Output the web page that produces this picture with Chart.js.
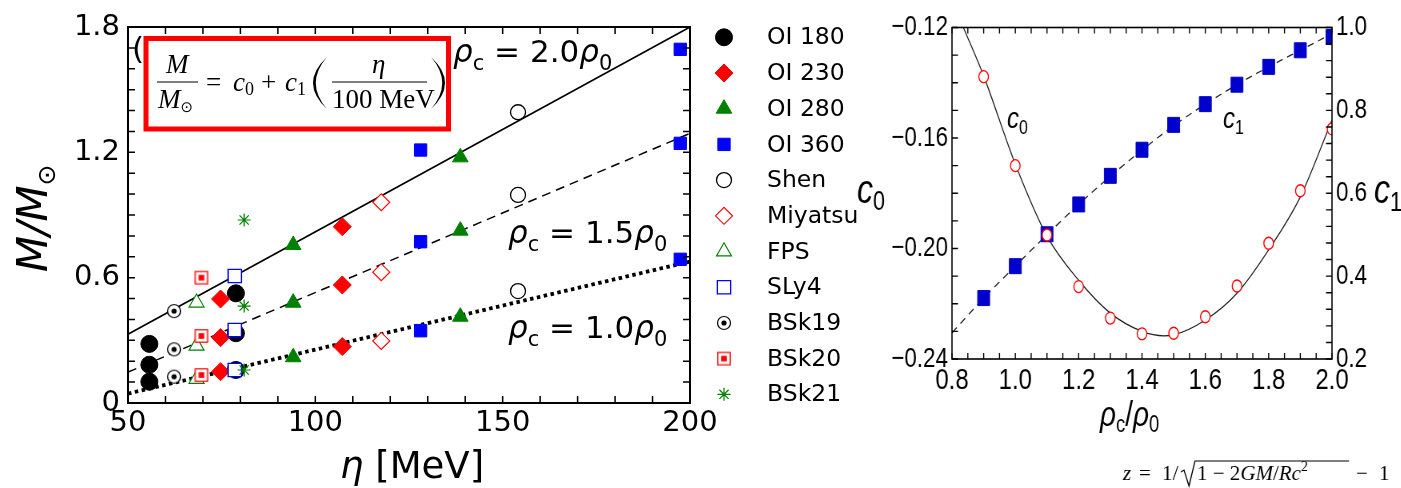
<!DOCTYPE html>
<html>
<head>
<meta charset="utf-8">
<script src="https://cdn.jsdelivr.net/npm/chart.js@4.4.0/dist/chart.umd.min.js"></script>
<style>
  html, body { margin: 0; padding: 0; background: #fff; }
  #wrap { position: relative; width: 1401px; height: 488px; overflow: hidden; }
  #left { position: absolute; left: 0; top: 0; }
  #right { position: absolute; left: 840px; top: 0; transform: scaleX(0.8); transform-origin: 0 0; }
</style>
</head>
<body>
<div id="wrap">
  <canvas id="left" width="860" height="488"></canvas>
  <canvas id="right" width="701" height="488"></canvas>
</div>
<script>
// left panel: neutron star mass vs eta, three central densities per model
const etaOI180 = [55.7, 55.7, 55.7, 78.8, 78.8, 78.8];
const massOI180 = [0.283, 0.183, 0.102, 0.525, 0.334, 0.158];
const etaOI230 = [74.7, 74.7, 74.7, 107.2, 107.2, 107.2];
const massOI230 = [0.498, 0.313, 0.150, 0.844, 0.565, 0.270];
const etaOI280 = [94.1, 94.1, 94.1, 138.7, 138.7, 138.7];
const massOI280 = [0.756, 0.480, 0.219, 1.176, 0.825, 0.413];
const etaOI360 = [128.1, 128.1, 128.1, 197.4, 197.4, 197.4];
const massOI360 = [1.211, 0.772, 0.346, 1.693, 1.243, 0.688];
const etaShen = [154.1, 154.1, 154.1];
const massShen = [1.392, 0.996, 0.536];
const etaMiyatsu = [117.6, 117.6, 117.6];
const massMiyatsu = [0.961, 0.626, 0.297];
const etaFPS = [68.3, 68.3, 68.3];
const massFPS = [0.480, 0.274, 0.115];
const etaSLy4 = [78.5, 78.5, 78.5];
const massSLy4 = [0.608, 0.349, 0.158];
const etaBSk19 = [62.3, 62.3, 62.3];
const massBSk19 = [0.440, 0.257, 0.126];
const etaBSk20 = [69.6, 69.6, 69.6];
const massBSk20 = [0.600, 0.321, 0.134];
const etaBSk21 = [81.0, 81.0, 81.0];
const massBSk21 = [0.876, 0.464, 0.158];

// fit lines (end points)
const fitEta = [50, 200];
const fitRho20 = [0.329, 1.800];
const fitRho15 = [0.148, 1.291];
const fitRho10 = [0.045, 0.677];

const etaTicks = [50, 100, 150, 200];
const etaTickLabels = ['50', '100', '150', '200'];
const massTicks = [0, 0.6, 1.2, 1.8];
const massTickLabels = ['0', '0.6', '1.2', '1.8'];

// right panel: fit coefficients vs rho_c / rho_0
const rhoRatio = [0.9, 1.0, 1.1, 1.2, 1.3, 1.4, 1.5, 1.6, 1.7, 1.8, 1.9, 2.0];
const c0Values = [-0.1378, -0.1700, -0.1951, -0.2138, -0.2252, -0.2309, -0.2307, -0.2247, -0.2136, -0.1981, -0.1791, -0.1567];
const c1Values = [0.347, 0.424, 0.501, 0.573, 0.642, 0.705, 0.765, 0.815, 0.862, 0.905, 0.945, 0.977];
const c0CurveX = [0.836, 0.9, 1.0, 1.1, 1.2, 1.3, 1.4, 1.47, 1.5, 1.6, 1.7, 1.8, 1.9, 2.0];
const c0CurveY = [-0.120, -0.1375, -0.1695, -0.1955, -0.2115, -0.2234, -0.2300, -0.2316, -0.2313, -0.2259, -0.2162, -0.2005, -0.1813, -0.1535];
const c1LineX = [0.8, 0.9, 1.0, 1.1, 1.2, 1.3, 1.4, 1.5, 1.6, 1.7, 1.8, 1.9, 2.0];
const c1LineY = [0.263, 0.347, 0.424, 0.500, 0.573, 0.641, 0.704, 0.763, 0.815, 0.862, 0.905, 0.945, 0.985];

const rhoTicks = [0.8, 1.0, 1.2, 1.4, 1.6, 1.8, 2.0];
const rhoTickLabels = ['0.8', '1.0', '1.2', '1.4', '1.6', '1.8', '2.0'];
const c0Ticks = [-0.24, -0.20, -0.16, -0.12];
const c0TickLabels = ['\u22120.24', '\u22120.20', '\u22120.16', '\u22120.12'];
const c1Ticks = [0.2, 0.4, 0.6, 0.8, 1.0];
const c1TickLabels = ['0.2', '0.4', '0.6', '0.8', '1.0'];

const RED = '#ff0000', GREEN = '#008000', BLUE = '#0000ff';

function marker(size, draw) {
    const c = document.createElement('canvas');
    c.width = size; c.height = size;
    draw(c.getContext('2d'));
    return c;
}
// circle with a dot
const dotCircle = marker(18, g => {
    g.fillStyle = '#fff'; g.strokeStyle = '#000'; g.lineWidth = 1.2;
    g.beginPath(); g.arc(9, 9, 6.5, 0, 2 * Math.PI); g.fill(); g.stroke();
    g.fillStyle = '#000';
    g.beginPath(); g.arc(9, 9, 2.6, 0, 2 * Math.PI); g.fill();
});
// square with a small filled square
const dotSquare = marker(16, g => {
    g.fillStyle = '#fff'; g.strokeStyle = RED; g.lineWidth = 1.2;
    g.fillRect(1.8, 1.8, 12.4, 12.4); g.strokeRect(1.8, 1.8, 12.4, 12.4);
    g.fillStyle = RED; g.fillRect(5.2, 5.2, 5.6, 5.6);
});

const pts = (xs, ys) => xs.map((x, i) => ({ x: x, y: ys[i] }));

const models = [
    { label: 'OI 180', data: pts(etaOI180, massOI180), pointStyle: 'circle', r: 8.5, bg: '#000', bc: '#000', bw: 1 },
    { label: 'OI 230', data: pts(etaOI230, massOI230), pointStyle: 'rectRot', r: 9, bg: RED, bc: RED, bw: 1 },
    { label: 'OI 280', data: pts(etaOI280, massOI280), pointStyle: 'triangle', r: 9, bg: GREEN, bc: GREEN, bw: 1 },
    { label: 'OI 360', data: pts(etaOI360, massOI360), pointStyle: 'rect', r: 8.7, bg: BLUE, bc: BLUE, bw: 1 },
    { label: 'Shen', data: pts(etaShen, massShen), pointStyle: 'circle', r: 7.5, bg: '#fff', bc: '#000', bw: 1.3 },
    { label: 'Miyatsu', data: pts(etaMiyatsu, massMiyatsu), pointStyle: 'rectRot', r: 8.5, bg: '#fff', bc: RED, bw: 1.1 },
    { label: 'FPS', data: pts(etaFPS, massFPS), pointStyle: 'triangle', r: 8.7, bg: '#fff', bc: GREEN, bw: 1.1 },
    { label: 'SLy4', data: pts(etaSLy4, massSLy4), pointStyle: 'rect', r: 9.4, bg: '#fff', bc: BLUE, bw: 1.3 },
    { label: 'BSk19', data: pts(etaBSk19, massBSk19), pointStyle: dotCircle, r: 7, bg: '#fff', bc: '#000', bw: 1 },
    { label: 'BSk20', data: pts(etaBSk20, massBSk20), pointStyle: dotSquare, r: 7, bg: '#fff', bc: RED, bw: 1 },
    { label: 'BSk21', data: pts(etaBSk21, massBSk21), pointStyle: 'star', r: 6.5, bg: GREEN, bc: GREEN, bw: 1.2 }
];

function fitLine(ys, dash, width) {
    return {
        data: pts(fitEta, ys), showLine: true, pointRadius: 0, borderColor: '#000',
        borderWidth: width, borderDash: dash, order: 100, fill: false
    };
}

// text chained piece by piece: [text, font, dy]
function rich(ctx, x, y, parts) {
    for (const [t, f, dy] of parts) {
        ctx.font = f;
        ctx.fillText(t, x, y + (dy || 0));
        x += ctx.measureText(t).width;
    }
    return x;
}

function inwardTicks(ctx, chart, id, from, to, step, side, len) {
    const s = chart.scales[id], a = chart.chartArea;
    const n = Math.round((to - from) / step);
    ctx.beginPath();
    for (let k = 0; k <= n; k++) {
        const p = s.getPixelForValue(from + k * step);
        if (side === 'bottom') { ctx.moveTo(p, a.bottom); ctx.lineTo(p, a.bottom - len); }
        if (side === 'top') { ctx.moveTo(p, a.top); ctx.lineTo(p, a.top + len); }
        if (side === 'left') { ctx.moveTo(a.left, p); ctx.lineTo(a.left + len, p); }
        if (side === 'right') { ctx.moveTo(a.right, p); ctx.lineTo(a.right - len, p); }
    }
    ctx.stroke();
}

// thin tall bracket as a crescent
function paren(ctx, x, top, bottom, bulge) {
    const mid = (top + bottom) / 2;
    ctx.beginPath();
    ctx.moveTo(x, top);
    ctx.quadraticCurveTo(x - bulge, mid, x, bottom);
    ctx.quadraticCurveTo(x - bulge * 0.8, mid, x, top);
    ctx.fill();
}

const SANS = 'DejaVu Sans';
const SERIF = '"Liberation Serif", "DejaVu Serif", serif';

const leftDecor = {
    id: 'leftDecor',
    afterDraw(chart) {
        const ctx = chart.ctx, a = chart.chartArea;
        ctx.save();
        ctx.strokeStyle = '#000'; ctx.fillStyle = '#000';
        ctx.lineWidth = 2;
        ctx.strokeRect(a.left, a.top, a.right - a.left, a.bottom - a.top);
        ctx.lineWidth = 1.5;
        inwardTicks(ctx, chart, 'x', 50, 200, 10, 'bottom', 7);
        inwardTicks(ctx, chart, 'x', 50, 200, 10, 'top', 7);
        inwardTicks(ctx, chart, 'y', 0, 1.8, 0.1, 'left', 7);
        inwardTicks(ctx, chart, 'y', 0, 1.8, 0.1, 'right', 7);

        ctx.textAlign = 'left'; ctx.textBaseline = 'alphabetic';
        // stray "(" of the hidden panel tag
        ctx.font = '31px ' + SANS;
        ctx.fillText('(', 132, 59);

        // formula box
        ctx.fillStyle = '#fff';
        ctx.fillRect(146, 38.5, 302.5, 90.5);
        ctx.strokeStyle = RED; ctx.lineWidth = 5;
        ctx.strokeRect(146, 38.5, 302.5, 90.5);
        ctx.fillStyle = '#000'; ctx.strokeStyle = '#000'; ctx.lineWidth = 1.2;
        const it = 'italic 27px ' + SERIF, rm = '27px ' + SERIF, sm = '18px ' + SERIF;
        ctx.font = it; ctx.fillText('M', 166, 73);
        ctx.beginPath(); ctx.moveTo(157, 82); ctx.lineTo(198, 82); ctx.stroke();
        rich(ctx, 158, 108, [['M', it], ['\u2299', '15px DejaVu Sans', 4]]);
        rich(ctx, 206, 91, [['=', rm]]);
        rich(ctx, 233, 91, [['c', it], ['0', sm, 4]]);
        rich(ctx, 261, 91, [['+', rm]]);
        rich(ctx, 285, 91, [['c', it], ['1', sm, 4]]);
        paren(ctx, 327, 57, 109, 28);
        paren(ctx, 431, 57, 109, -28);
        ctx.font = it; ctx.fillText('\u03b7', 372, 73);
        ctx.beginPath(); ctx.moveTo(332, 82); ctx.lineTo(427, 82); ctx.stroke();
        rich(ctx, 332, 108, [['100', rm], [' MeV', rm]]);

        // density labels on the fit lines
        const big = '31px ' + SANS, bigI = 'oblique 31px ' + SANS, sub = '21px ' + SANS;
        const lbl = (x, y, v) => rich(ctx, x, y, [['\u03c1', bigI], ['c', sub, 8], [' = ' + v, big], ['\u03c1', bigI], ['0', sub, 8]]);
        lbl(453, 62, '2.0');
        lbl(508, 243, '1.5');
        lbl(508, 338, '1.0');

        // axis titles
        rich(ctx, 340, 478, [['\u03b7', 'oblique 37px ' + SANS], [' [MeV]', '37px ' + SANS]]);
        ctx.save();
        ctx.translate(47, 272); ctx.rotate(-Math.PI / 2);
        rich(ctx, 0, 0, [['M/M', 'oblique 42px ' + SANS], ['\u2299', '25px ' + SANS, 8]]);
        ctx.restore();

        // legend
        ctx.textBaseline = 'middle';
        models.forEach((m, i) => {
            const y = 37.3 + i * 35.7;
            ctx.fillStyle = m.bg; ctx.strokeStyle = m.bc; ctx.lineWidth = m.bw;
            Chart.helpers.drawPoint(ctx, { pointStyle: m.pointStyle, radius: m.r, rotation: 0, borderWidth: m.bw }, 724, y);
            ctx.fillStyle = '#000'; ctx.font = '23.5px ' + SANS;
            ctx.fillText(m.label, 767, y + 1);
        });
        ctx.restore();
    }
};

new Chart(document.getElementById('left'), {
    type: 'scatter',
    data: {
        datasets: [
            fitLine(fitRho20, [], 1.6),
            fitLine(fitRho15, [9, 6], 1.5),
            fitLine(fitRho10, [3.5, 3.5], 3.8)
        ].concat(models.map((m, i) => ({
            label: m.label, data: m.data, pointStyle: m.pointStyle, pointRadius: m.r,
            pointBackgroundColor: m.bg, pointBorderColor: m.bc, pointBorderWidth: m.bw,
            showLine: false, order: 20 - i
        })))
    },
    options: {
        responsive: false,
        animation: false,
        events: [],
        layout: { padding: { top: 27, right: 170, left: 0, bottom: 0 } },
        plugins: { legend: { display: false }, tooltip: { enabled: false } },
        scales: {
            x: {
                type: 'linear', min: 50, max: 200,
                grid: { display: false, drawTicks: false }, border: { display: false },
                afterBuildTicks: s => { s.ticks = etaTicks.map(v => ({ value: v })); },
                afterFit: s => { s.height = 85; },
                ticks: { callback: (v, i) => etaTickLabels[i], color: '#000', padding: 3, autoSkip: false, maxRotation: 0,
                         font: { family: SANS, size: 29 } }
            },
            y: {
                type: 'linear', min: 0, max: 1.8,
                grid: { display: false, drawTicks: false }, border: { display: false },
                afterBuildTicks: s => { s.ticks = massTicks.map(v => ({ value: v })); },
                afterFit: s => { s.width = 128; },
                ticks: { callback: (v, i) => massTickLabels[i], color: '#000', padding: 8, autoSkip: false,
                         font: { family: SANS, size: 29 } }
            }
        }
    },
    plugins: [leftDecor]
});

// right panel, drawn on a canvas squeezed to 0.8 in x
const sx = X => (X - 840) / 0.8;
const RS = '"Liberation Sans", Arial, sans-serif';

const rightDecor = {
    id: 'rightDecor',
    afterDraw(chart) {
        const ctx = chart.ctx, a = chart.chartArea;
        ctx.save();
        ctx.strokeStyle = '#000'; ctx.fillStyle = '#000';
        ctx.lineWidth = 1.6;
        ctx.strokeRect(a.left, a.top, a.right - a.left, a.bottom - a.top);
        ctx.lineWidth = 1.4;
        inwardTicks(ctx, chart, 'x', 0.8, 2.0, 0.05, 'bottom', 6);
        inwardTicks(ctx, chart, 'x', 0.8, 2.0, 0.05, 'top', 6);
        inwardTicks(ctx, chart, 'y', -0.24, -0.12, 0.01, 'left', 7.5);
        inwardTicks(ctx, chart, 'y1', 0.2, 1.0, 0.04, 'right', 7.5);

        ctx.textAlign = 'left'; ctx.textBaseline = 'alphabetic';
        const ci = 'italic 30px ' + RS, cs = '20px ' + RS;
        rich(ctx, sx(1007), 128, [['c', ci], ['0', cs, 6]]);
        rich(ctx, sx(1223), 128, [['c', ci], ['1', cs, 6]]);
        const ti = 'italic 40px ' + RS, ts = '27px ' + RS;
        rich(ctx, sx(857), 203, [['c', ti], ['0', ts, 7]]);
        rich(ctx, sx(1374), 203, [['c', ti], ['1', ts, 8]]);
        const ri = 'italic 35px ' + RS, rr = '35px ' + RS, rsub = '23px ' + RS;
        rich(ctx, sx(1100), 426, [['\u03c1', ri], ['c', rsub, 6], ['/', rr], ['\u03c1', ri], ['0', rsub, 6]]);

        // redshift formula, undistorted
        ctx.scale(1 / 0.8, 1);
        const fi = 'italic 21px ' + SERIF, fr = '21px ' + SERIF;
        const x0 = 1123 - 840, y0 = 480;
        rich(ctx, x0, y0, [['z', fi]]);
        rich(ctx, x0 + 16, y0, [['=', fr]]);
        rich(ctx, x0 + 39, y0, [['1/', fr]]);
        let q = x0 + 58;
        ctx.lineWidth = 1.1;
        ctx.beginPath();
        ctx.moveTo(q, y0 - 8); ctx.lineTo(q + 3, y0 - 10); ctx.lineTo(q + 8, y0 + 6);
        ctx.lineTo(q + 14, y0 - 19); ctx.lineTo(x0 + 226, y0 - 19);
        ctx.stroke();
        rich(ctx, x0 + 74, y0, [['1', fr], [' \u2212 ', fr], ['2', fr], ['GM', fi], ['/', fr], ['Rc', fi], ['2', '14px ' + SERIF, -9]]);
        rich(ctx, x0 + 233, y0, [['\u2212', fr]]);
        rich(ctx, x0 + 256, y0, [['1', fr]]);
        ctx.restore();
    }
};

new Chart(document.getElementById('right'), {
    type: 'scatter',
    data: {
        datasets: [
            { data: pts(rhoRatio, c0Values), yAxisID: 'y', pointStyle: 'circle', pointRadius: 6,
              pointBackgroundColor: '#fff', pointBorderColor: RED, pointBorderWidth: 1.4, order: 0 },
            { data: pts(rhoRatio, c1Values), yAxisID: 'y1', pointStyle: 'rect', pointRadius: 10.6,
              pointBackgroundColor: '#0000cc', pointBorderColor: '#0000cc', pointBorderWidth: 1, order: 1 },
            { data: pts(c0CurveX, c0CurveY), yAxisID: 'y', showLine: true, pointRadius: 0,
              borderColor: '#222', borderWidth: 1.3, cubicInterpolationMode: 'monotone', order: 5 },
            { data: pts(c1LineX, c1LineY), yAxisID: 'y1', showLine: true, pointRadius: 0,
              borderColor: '#222', borderWidth: 1.3, borderDash: [8, 6], cubicInterpolationMode: 'monotone', order: 5 }
        ]
    },
    options: {
        responsive: false,
        animation: false,
        events: [],
        layout: { padding: { top: 27.5, right: 0, left: 0, bottom: 0 } },
        plugins: { legend: { display: false }, tooltip: { enabled: false } },
        scales: {
            x: {
                type: 'linear', min: 0.8, max: 2.0,
                grid: { display: false, drawTicks: false }, border: { display: false },
                afterBuildTicks: s => { s.ticks = rhoTicks.map(v => ({ value: v })); },
                afterFit: s => { s.height = 129; },
                ticks: { callback: (v, i) => rhoTickLabels[i], color: '#000', padding: 4, autoSkip: false, maxRotation: 0,
                         font: { family: RS, size: 30 } }
            },
            y: {
                type: 'linear', position: 'left', min: -0.24, max: -0.12,
                grid: { display: false, drawTicks: false }, border: { display: false },
                afterBuildTicks: s => { s.ticks = c0Ticks.map(v => ({ value: v })); },
                afterFit: s => { s.width = 140; },
                ticks: { callback: (v, i) => c0TickLabels[i], color: '#000', padding: 5, autoSkip: false,
                         font: { family: RS, size: 28 } }
            },
            y1: {
                type: 'linear', position: 'right', min: 0.2, max: 1.0,
                grid: { display: false, drawTicks: false }, border: { display: false },
                afterBuildTicks: s => { s.ticks = c1Ticks.map(v => ({ value: v })); },
                afterFit: s => { s.width = 86; },
                ticks: { callback: (v, i) => c1TickLabels[i], color: '#000', padding: 5, autoSkip: false,
                         font: { family: RS, size: 28 } }
            }
        }
    },
    plugins: [rightDecor]
});
</script>
</body>
</html>
